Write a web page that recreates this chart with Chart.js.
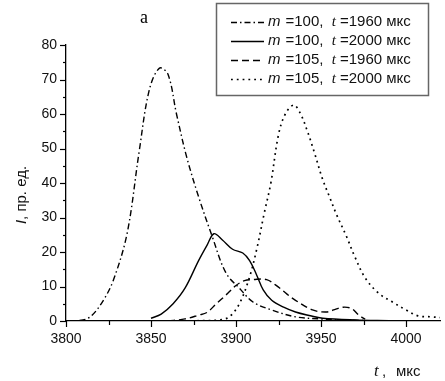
<!DOCTYPE html>
<html>
<head>
<meta charset="utf-8">
<script src="https://cdn.jsdelivr.net/npm/chart.js@4"></script>
<style>
    body { margin: 0; background: #fff; }
    #wrap { width: 445px; height: 381px; position: relative; }
</style>
</head>
<body>
<div id="wrap"><canvas id="myChart"></canvas></div>
<script>
// m=100, t=1960 (dash-dot)
const tA = [3800, 3810, 3815, 3822, 3828, 3836, 3843, 3849, 3855, 3860, 3865, 3871, 3878, 3886, 3894, 3902, 3910, 3921, 3935, 3950, 3970, 3990];
const iA = [0, 0.3, 1.5, 6, 12, 25.5, 49, 67, 73.3, 71.5, 60, 47.5, 36, 24.5, 14, 9.5, 5.5, 3.2, 1.2, 0.6, 0.2, 0];
// m=100, t=2000 (solid)
const tB = [3850, 3856, 3863, 3870, 3878, 3883, 3887, 3892, 3898, 3904, 3908, 3912, 3916, 3921, 3928, 3935, 3943, 3951, 3970, 3990];
const iB = [0.8, 2, 5, 9.5, 17.5, 22, 25.3, 23.5, 20.8, 19.7, 17.5, 13.5, 9, 6, 4, 2.6, 1.6, 0.8, 0.3, 0.1];
// m=105, t=1960 (dashed)
const tC = [3860, 3870, 3878, 3883, 3888, 3894, 3900, 3905, 3910, 3918, 3925, 3930, 3935, 3945, 3953, 3958, 3963, 3968, 3972, 3976];
const iC = [0, 0.6, 1.7, 2.5, 4.8, 7.5, 10.3, 11.7, 12, 12, 9.8, 7.8, 6, 3.2, 2.6, 3.3, 4, 3.6, 1.8, 0.5];
// m=105, t=2000 (dotted)
const tD = [3860, 3880, 3890, 3896, 3902, 3908, 3912.5, 3916.5, 3920.5, 3925, 3929, 3934, 3938, 3942, 3946, 3951, 3955, 3959, 3965, 3970, 3976, 3984, 3992, 4000, 4007, 4015, 4020];
const iD = [0, 0.1, 0.3, 1.2, 5, 12.8, 21.5, 31, 40, 54, 60, 62.6, 60, 55, 49, 41, 36, 31, 24.5, 18.5, 12.5, 8, 5.5, 3.2, 1.5, 1.2, 1];

const legendM = ['100', '100', '105', '105'];
const legendT = ['1960', '2000', '1960', '2000'];
const dashes = [[6, 3, 1.5, 3], [], [7, 4], [1.8, 4]];

const xTicksMajor = [3800, 3850, 3900, 3950, 4000];
const yTicksMajor = [0, 10, 20, 30, 40, 50, 60, 70, 80];

function pts(xs, ys) {
    return xs.map(function(x, i) { return {x: x, y: ys[i]}; });
}

const series = [pts(tA, iA), pts(tB, iB), pts(tC, iC), pts(tD, iD)];

const dataset = {
    datasets: series.map(function(d, i) {
        return {
            label: 'm =' + legendM[i] + ', t =' + legendT[i] + ' мкс',
            data: d,
            borderColor: '#000',
            borderWidth: i === 3 ? 1.7 : 1.4,
            borderDash: dashes[i],
            pointRadius: 0,
            fill: false,
            tension: 0.35
        };
    })
};

// ticks, legend and labels drawn by hand
const decor = {
    id: 'decor',
    afterDraw: function(chart) {
        const ctx = chart.ctx;
        const xs = chart.scales.x, ys = chart.scales.y;
        const area = chart.chartArea;
        ctx.save();
        ctx.strokeStyle = '#000';
        ctx.lineWidth = 1.2;
        ctx.setLineDash([]);
        // y ticks
        for (let v = 0; v <= 80; v += 5) {
            let py = Math.round(ys.getPixelForValue(v)) + 0.5;
            let len = (v % 10 === 0) ? 6 : 3;
            ctx.beginPath();
            ctx.moveTo(area.left, py);
            ctx.lineTo(area.left - len, py);
            ctx.stroke();
        }
        // x ticks
        for (let v = 3800; v <= 4020; v += 25) {
            let px = Math.round(xs.getPixelForValue(v)) + 0.5;
            let len = (v % 50 === 0) ? 6 : 4;
            ctx.beginPath();
            ctx.moveTo(px, area.bottom);
            ctx.lineTo(px, area.bottom + len);
            ctx.stroke();
        }

        // legend box
        ctx.fillStyle = '#fff';
        ctx.fillRect(216, 3, 212, 92);
        ctx.strokeStyle = '#666';
        ctx.lineWidth = 1.5;
        ctx.strokeRect(216.5, 3.5, 212, 92);
        const rows = [22, 41, 60, 79];
        chart.data.datasets.forEach(function(ds, i) {
            let y = rows[i];
            ctx.strokeStyle = '#000';
            ctx.lineWidth = ds.borderWidth;
            ctx.setLineDash(ds.borderDash);
            ctx.beginPath();
            ctx.moveTo(231, y + 0.5);
            ctx.lineTo(264, y + 0.5);
            ctx.stroke();
            ctx.setLineDash([]);
            ctx.fillStyle = '#111';
            ctx.textBaseline = 'middle';
            ctx.textAlign = 'left';
            let x = 268;
            ctx.font = 'italic 15px "Liberation Sans"';
            ctx.fillText('m', x, y);
            x += ctx.measureText('m').width + 5;
            ctx.font = '15px "Liberation Sans"';
            let s = '=' + legendM[i] + ',  ';
            ctx.fillText(s, x, y);
            x += ctx.measureText(s).width;
            ctx.font = 'italic 15px "Liberation Serif"';
            ctx.fillText('t', x, y);
            x += ctx.measureText('t').width + 4;
            ctx.font = '15px "Liberation Sans"';
            ctx.fillText('=' + legendT[i] + ' мкс', x, y);
        });

        // panel letter
        ctx.fillStyle = '#000';
        ctx.textBaseline = 'alphabetic';
        ctx.textAlign = 'left';
        ctx.font = '18px "Liberation Serif"';
        ctx.fillText('а', 140, 23);

        // x title
        ctx.fillStyle = '#111';
        ctx.font = 'italic 17px "Liberation Serif"';
        ctx.fillText('t', 374, 376);
        ctx.font = '15px "Liberation Sans"';
        ctx.fillText(',', 382, 376);
        ctx.fillText('мкс', 396, 376);

        // y title
        ctx.translate(26, 195);
        ctx.rotate(-Math.PI / 2);
        ctx.font = 'italic 15px "Liberation Sans"';
        let wI = ctx.measureText('I').width;
        ctx.font = '15px "Liberation Sans"';
        let rest = ', пр. ед.';
        let wR = ctx.measureText(rest).width;
        let x0 = -(wI + wR) / 2;
        ctx.font = 'italic 15px "Liberation Sans"';
        ctx.fillText('I', x0, 0);
        ctx.font = '15px "Liberation Sans"';
        ctx.fillText(rest, x0 + wI, 0);
        ctx.restore();
    }
};

let ctx = document.getElementById('myChart').getContext('2d');
const config = {
    type: 'line',
    data: dataset,
    options: {
        responsive: true,
        maintainAspectRatio: false,
        animation: false,
        layout: { padding: { top: 45, right: 5, left: 0, bottom: 0 } },
        plugins: {
            legend: { display: false },
            tooltip: { enabled: false }
        },
        scales: {
            x: {
                type: 'linear',
                min: 3800,
                max: 4020,
                afterFit: function(scale) { scale.height = 60; },
                grid: { drawOnChartArea: false, drawTicks: false },
                border: { color: '#000', width: 1.3 },
                ticks: {
                    stepSize: 50,
                    includeBounds: false,
                    maxRotation: 0,
                    padding: 10,
                    color: '#111',
                    font: { family: 'Liberation Sans', size: 14 },
                    callback: function(v) { return xTicksMajor.includes(v) ? String(v) : ''; }
                }
            },
            y: {
                min: 0,
                max: 80,
                afterFit: function(scale) { scale.width = 66; },
                grid: { drawOnChartArea: false, drawTicks: false },
                border: { color: '#000', width: 1.3 },
                ticks: {
                    stepSize: 10,
                    padding: 9,
                    color: '#111',
                    font: { family: 'Liberation Sans', size: 14 },
                    callback: function(v) { return yTicksMajor.includes(v) ? String(v) : ''; }
                }
            }
        }
    },
    plugins: [decor]
};
new Chart(ctx, config);
</script>
</body>
</html>
